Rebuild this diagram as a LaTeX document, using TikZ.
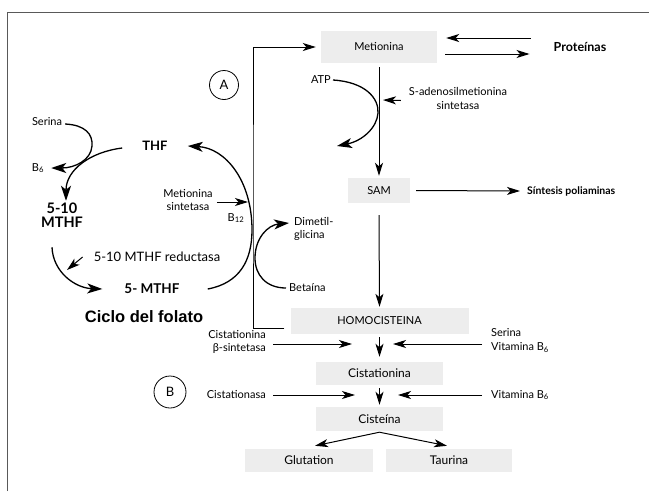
\documentclass[tikz,border=0pt]{standalone}
\usepackage{fontspec}
\setmainfont{Lato}
\newfontfamily\helvfam{Liberation Sans}
\usetikzlibrary{arrows.meta}

\tikzset{
  caja/.style={fill=gray!14, inner sep=0pt, font=\fontsize{11}{13}\selectfont},
  cajag/.style={caja, font=\fontsize{12}{14}\selectfont},
  etiq/.style={inner sep=0pt, font=\fontsize{11}{13.5}\selectfont},
  negrita/.style={inner sep=0pt, font=\bfseries\fontsize{13}{14}\selectfont},
  flecha/.style={line width=1pt, -{Stealth[length=13pt,width=8pt,inset=3.5pt]}},
  curva/.style={line width=1.3pt, -{Stealth[length=15pt,width=10pt,inset=4pt]}},
  circulo/.style={draw, circle, line width=0.8pt, inner sep=0pt, font=\fontsize{13}{14}\selectfont}
}

\begin{document}
\begin{tikzpicture}[x=1pt, y=-1pt]
\useasboundingbox (0,0) rectangle (649,491);
% marco
\draw[black!65, line width=1pt] (7,491) -- (7,12) -- (649,12);

% cajas
\node[caja, minimum width=116pt, minimum height=32pt] (met) at (379,47) {Metionina};
\node[caja, minimum width=62pt, minimum height=25pt] (sam) at (379,190.5) {SAM};
\node[caja, minimum width=178pt, minimum height=26pt] (homo) at (379.5,321) {HOMOCISTEINA};
\node[cajag, minimum width=127pt, minimum height=23pt] (cist) at (379.5,373.5) {Cistationina};
\node[cajag, minimum width=127pt, minimum height=24pt] (cisteina) at (379.5,419) {Cisteína};
\node[cajag, minimum width=128pt, minimum height=23pt] (glut) at (309,460.5) {Glutation};
\node[cajag, minimum width=126pt, minimum height=23pt] (taur) at (449,460.5) {Taurina};

% textos
\node[negrita, font=\bfseries\fontsize{12.5}{14}\selectfont] (prot) at (580,47) {Proteínas};
\node[negrita, font=\bfseries\fontsize{10.5}{12}\selectfont, anchor=west] (sint) at (527,191) {Síntesis poliaminas};
\node[etiq, anchor=east] (atp) at (331,80) {ATP};
\node[etiq, align=center] (adenos) at (458,98.5) {S-adenosilmetionina\\sintetasa};
\node[etiq] (serina) at (47,122) {Serina};
\node[etiq] (b6a) at (38,168) {B\textsubscript{6}};
\node[negrita] (thf) at (155,146) {THF};
\node[negrita, font=\bfseries\fontsize{14.5}{13.5}\selectfont, align=center] (mthf510) at (62,215) {5-10\\MTHF};
\node[inner sep=0pt, font=\fontsize{13}{15}\selectfont] (reduct) at (157,257) {5-10 MTHF reductasa};
\node[negrita, font=\bfseries\fontsize{13.5}{15}\selectfont] (mthf5) at (152,289) {5- MTHF};
\node[inner sep=0pt, font=\helvfam\bfseries\fontsize{16.5}{18}\selectfont] (ciclo) at (144,317) {Ciclo del folato};
\node[etiq, align=center] (metsint) at (188,200) {Metionina\\sintetasa};
\node[etiq] (b12) at (236,218) {B\textsubscript{12}};
\node[etiq, align=left, anchor=west, font=\fontsize{11}{12.5}\selectfont] (dimet) at (294,229) {Dimetil-\\glicina};
\node[etiq, anchor=west] (betaina) at (289,288) {Betaína};
\node[etiq, align=right, anchor=east] (cbs) at (266,342) {Cistationina\\β-sintetasa};
\node[etiq, align=left, anchor=west] (servit) at (491,340.5) {Serina\\Vitamina B\textsubscript{6}};
\node[etiq, anchor=east] (cistasa) at (266,395) {Cistationasa};
\node[etiq, anchor=west] (vitb6) at (491,395) {Vitamina B\textsubscript{6}};
\node[circulo, minimum size=29pt] (cA) at (224,85) {A};
\node[circulo, minimum size=32pt] (cB) at (170,392) {B};

% Metionina - Proteinas
\draw[flecha] ([xshift=-23pt,yshift=9pt]prot.west) -- ([xshift=9pt,yshift=9pt]met.east);
\draw[flecha] ([xshift=8pt,yshift=-7pt]met.east) -- ([xshift=-24pt,yshift=-7pt]prot.west);

% vuelta a Metionina
\coordinate (eje) at (253,200);
\draw[flecha] ([xshift=-6pt,yshift=-7pt]homo.west) -| (eje) |- ([xshift=-5pt]met.west);

% ciclo de la metionina
\draw[flecha] ([yshift=-4pt]met.south) -- ([yshift=2pt]sam.north);
\coordinate (atpfin) at (337,146);
\draw[curva] ([xshift=2pt]atp.east) .. controls (365,82) and (379,98) .. (378,113) .. controls (377,128) and (362,141) .. (atpfin);
\coordinate (adfin) at (383,100);
\draw[flecha] ([xshift=-8pt,yshift=-2pt]adenos.west) -- (adfin);
\draw[flecha] ([xshift=6pt]sam.east) -- ([xshift=-7pt]sint.west);
\draw[flecha] ([yshift=-12pt]sam.south) -- ([yshift=1pt]homo.north);

% transulfuracion
\draw[flecha] ([yshift=-3pt]homo.south) -- ([yshift=5pt]cist.north);
\coordinate (ci1) at (352,344);
\coordinate (cd1) at (393,344);
\draw[flecha] ([xshift=7pt,yshift=-2pt]cbs.east) -- (ci1);
\draw[flecha] ([xshift=-9pt,yshift=-3.5pt]servit.west) -- (cd1);
\draw[flecha] ([yshift=-3pt]cist.south) -- ([yshift=2pt]cisteina.north);
\coordinate (ci2) at (355,395);
\coordinate (cd2) at (398,395);
\draw[flecha] ([xshift=7pt]cistasa.east) -- (ci2);
\draw[flecha] ([xshift=-9pt]vitb6.west) -- (cd2);
\draw[flecha] ([yshift=-1pt]cisteina.south) -- ([xshift=6pt,yshift=3pt]glut.north);
\draw[flecha] ([yshift=-1pt]cisteina.south) -- ([xshift=-2pt,yshift=3pt]taur.north);

% ciclo del folato
\draw[curva] ([xshift=3pt,yshift=-2pt]serina.east) .. controls (85,125) and (93,134) .. (92,146) .. controls (91,160) and (75,168) .. ([xshift=7pt]b6a.east);
\draw[curva] ([xshift=-20pt,yshift=-2pt]thf.west) .. controls (90,152) and (66,170) .. ([xshift=4pt,yshift=2pt]mthf510.north);
\draw[curva] ([xshift=-10pt,yshift=-20pt]mthf510.south) .. controls (53,272) and (75,288) .. ([xshift=-22pt]mthf5.west);
\coordinate (redfin) at (67,270);
\draw[flecha] ([xshift=-11pt]reduct.west) -- (redfin);
\draw[curva] ([xshift=28pt]mthf5.east) .. controls (240,283) and (252,260) .. (252,230) .. controls (252,180) and (225,148) .. ([xshift=20pt]thf.east);
\coordinate (msfin) at (248,202);
\draw[flecha] ([xshift=4pt,yshift=-2pt]metsint.east) -- (msfin);
\draw[curva] ([xshift=-3pt]betaina.west) .. controls (266,288) and (255,275) .. (255,258) .. controls (255,238) and (268,225) .. ([xshift=-5pt,yshift=6pt]dimet.west);
\end{tikzpicture}
\end{document}
